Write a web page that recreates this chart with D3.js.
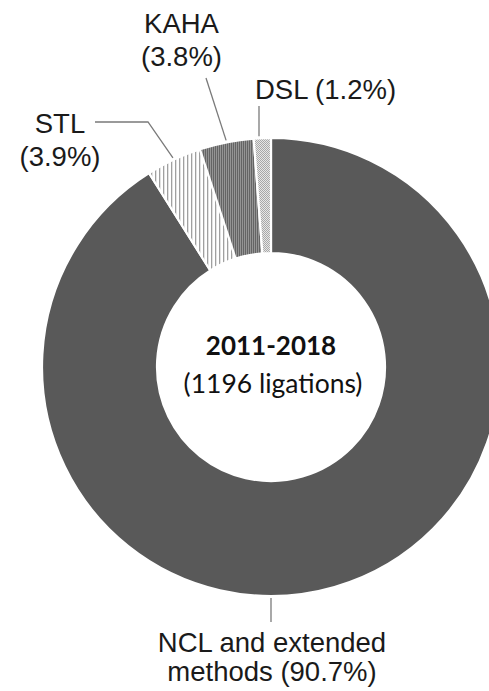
<!DOCTYPE html>
<html><head><meta charset="utf-8">
<script src="https://cdn.jsdelivr.net/npm/d3@7"></script>
<style>body{margin:0;background:#fff}svg{display:block}</style>
</head><body>
<svg id="c" width="489" height="691"></svg>
<script>
const categories = ["NCL and extended methods", "STL", "KAHA", "DSL"];
const percents = [90.7, 3.9, 3.8, 1.2];
const labelLines = [["NCL and extended", "methods (90.7%)"], ["STL", "(3.9%)"], ["KAHA", "(3.8%)"], ["DSL (1.2%)"]];
const centerTitle = "2011-2018";
const centerSub = "(1196 ligations)";

const svg = d3.select("#c");
const cx = 271, cy = 367, R = 229, r = 114;
const defs = svg.append("defs");
// STL: light vertical stripes
const p1 = defs.append("pattern").attr("id","pSTL").attr("patternUnits","userSpaceOnUse").attr("width",4).attr("height",4);
p1.append("rect").attr("width",4).attr("height",4).attr("fill","#fff");
p1.append("rect").attr("width",1.3).attr("height",4).attr("fill","#a0a0a0");
// KAHA: dense dark vertical stripes
const p2 = defs.append("pattern").attr("id","pKAHA").attr("patternUnits","userSpaceOnUse").attr("width",2).attr("height",2);
p2.append("rect").attr("width",2).attr("height",2).attr("fill","#949494");
p2.append("rect").attr("width",1).attr("height",2).attr("fill","#646464");
// DSL: fine dots
const p3 = defs.append("pattern").attr("id","pDSL").attr("patternUnits","userSpaceOnUse").attr("width",2).attr("height",2);
p3.append("rect").attr("width",2).attr("height",2).attr("fill","#e6e6e6");
p3.append("rect").attr("width",1).attr("height",1).attr("fill","#a8a8a8");
p3.append("rect").attr("x",1).attr("y",1).attr("width",1).attr("height",1).attr("fill","#a8a8a8");
const fills = ["#595959", "url(#pSTL)", "url(#pKAHA)", "url(#pDSL)"];

const data = categories.map((c,i)=>({cat:c, v:percents[i], i}));
const pie = d3.pie().value(d=>d.v).sort(null);
const arcs = pie(data);
const arc = d3.arc().innerRadius(r).outerRadius(R);
const g = svg.append("g").attr("transform",`translate(${cx},${cy})`);
g.selectAll("path").data(arcs).join("path")
  .attr("d", arc).attr("fill", d=>fills[d.data.i])
  .attr("stroke","#fff").attr("stroke-width",2.2).attr("stroke-linejoin","miter");

// leader lines
const lc = "#7a7a7a";
function ptOn(a, rad){ return [cx + rad*Math.sin(a), cy - rad*Math.cos(a)]; }
const mid = a => (a.startAngle + a.endAngle)/2;
const leaders = [
  [[cx, cy+R+2],[cx, 622]],
  [[95,122],[148,122],ptOn(mid(arcs[1]),R+2)],
  [[206,78],ptOn(mid(arcs[2]),R+2)],
  [[259,106],[259, ptOn(mid(arcs[3]),R+2)[1]]]
];
leaders.forEach(pts=>{
  svg.append("path").attr("d", d3.line()(pts)).attr("fill","none").attr("stroke",lc).attr("stroke-width",1.3);
});

const lab = svg.append("g").attr("font-family","'Liberation Sans', Arial, sans-serif").attr("font-size",27.5).attr("fill","#1a1a1a");
const labPos = [ {x:272, y:[652,681], anchor:"middle"}, {x:60, y:[133,166], anchor:"middle"}, {x:181.5, y:[33,66], anchor:"middle"}, {x:255, y:[99], anchor:"start"} ];
labelLines.forEach((lines,i)=>{
  lines.forEach((t,j)=>{
    lab.append("text").attr("x",labPos[i].x).attr("y",labPos[i].y[j]).attr("text-anchor",labPos[i].anchor).text(t);
  });
});

svg.append("text").attr("x",271).attr("y",355).attr("text-anchor","middle")
  .attr("font-family","Lato, 'Open Sans', sans-serif").attr("font-weight","bold").attr("font-size",26).attr("fill","#111").text(centerTitle);
svg.append("text").attr("x",273).attr("y",393).attr("text-anchor","middle")
  .attr("font-family","Lato, 'Open Sans', sans-serif").attr("font-size",26.5).attr("fill","#111").text(centerSub);
</script>
</body></html>
